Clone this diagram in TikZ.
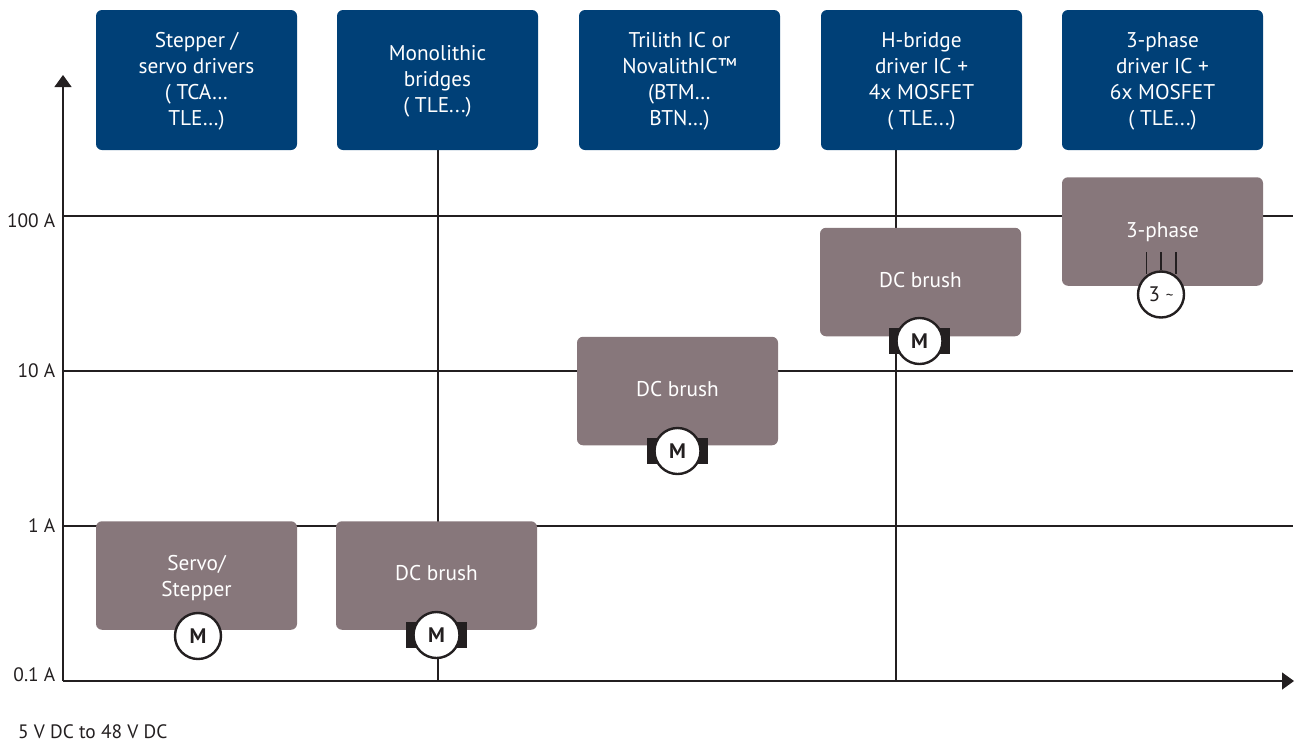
\documentclass[tikz,border=0pt]{standalone}
\usepackage{fontspec}
\setmainfont{PT Sans}
\usetikzlibrary{arrows.meta,calc,backgrounds}
\definecolor{ifblue}{HTML}{004077}
\definecolor{ifbrown}{HTML}{87777B}
\definecolor{ifline}{HTML}{231F20}
\newcommand{\dnstrut}{\rule{0pt}{17pt}}
\newcommand{\upstrut}{\rule[-5pt]{0pt}{0pt}}
\tikzset{
  x=1pt,y=-1pt,
  txt/.style={font=\fontsize{21.3}{26}\selectfont,align=center,text=white},
  headbox/.style={txt,fill=ifblue,rounded corners=6pt,minimum width=201pt,minimum height=140pt,inner sep=0pt},
  motorbox/.style={txt,fill=ifbrown,rounded corners=6pt,minimum width=201pt,minimum height=108.5pt,inner sep=0pt},
  motor/.style={circle,draw=ifline,line width=2.4pt,fill=white,minimum size=46pt,inner sep=0pt,text=ifline,font=\fontsize{21}{24}\selectfont},
  brushes/.style={fill=ifline,minimum width=61pt,minimum height=26pt,inner sep=0pt},
  grid/.style={draw=ifline,line width=1.4pt},
  phaseline/.style={draw=ifline,line width=1.3pt},
  axis/.style={draw=ifline,line width=1.4pt,-{Triangle[length=12pt,width=17pt]}},
  ticklabel/.style={anchor=east,inner sep=0pt,text=ifline,font=\fontsize{19.4}{22}\selectfont},
}
\begin{document}
\begin{tikzpicture}
\useasboundingbox (0,0) rectangle (1298,742);
% headers
\node[headbox] (h1) at (196.5,80) {\dnstrut Stepper /\\servo drivers\\( TCA…\\TLE…)};
\node[headbox] (h2) at (437.5,80) {\dnstrut Monolithic\\bridges\\( TLE...)};
\node[headbox] (h3) at (679.5,80) {\dnstrut Trilith IC or\\NovalithIC™\\(BTM…\\BTN…)};
\node[headbox] (h4) at (921.5,80) {\dnstrut H-bridge\\driver IC +\\4x MOSFET\\( TLE...)};
\node[headbox] (h5) at (1162.5,80) {\dnstrut 3-phase\\driver IC +\\6x MOSFET\\( TLE...)};
% motor boxes
\node[motorbox] (b1) at (196.5,575.5) {\rule{0pt}{20pt}Servo/\\Stepper};
\node[motorbox] (b2) at (436.5,575.5) {\upstrut DC brush};
\node[motorbox] (b3) at (677.5,391) {\upstrut DC brush};
\node[motorbox] (b4) at (920.5,282) {\upstrut DC brush};
\node[motorbox] (b5) at (1162.5,231.5) {\rule{0pt}{17pt}3-phase};
% brushes
\node[brushes] (r2) at (436.5,635) {};
\node[brushes] (r3) at (677.5,451) {};
\node[brushes] (r4) at (919.5,341) {};
% motors
\node[motor] (m1) at (198,636) {\bfseries M};
\node[motor] (m2) at (436.5,635) {\bfseries M};
\node[motor] (m3) at (677.5,451) {\bfseries M};
\node[motor] (m4) at (919.5,341) {\bfseries M};
\node[motor] (m5) at (1161,294.5) {3 \raisebox{1pt}{\fontsize{15}{15}\selectfont\textasciitilde}};
% axes anchors
\coordinate (origin) at (63,681);
\coordinate (ytop) at (63,75);
\coordinate (xend) at (1294,681);
\coordinate (g100l) at (63,216);
\coordinate (g100r) at (1293,216);
\coordinate (g10l) at (63,371);
\coordinate (g10r) at (1293,371);
\coordinate (g1l) at (63,526);
\coordinate (g1r) at (1293,526);
\coordinate (p1) at (1146.5,252);
\coordinate (p2) at (1161,252);
\coordinate (p3) at (1176,252);
\begin{scope}[on background layer]
  \draw[grid] ([xshift=0.5pt]h2.south) -- ([xshift=0.5pt]h2.south |- origin);
  \draw[grid] ([xshift=-25.5pt]h4.south) -- ([xshift=-25.5pt]h4.south |- origin);
  \draw[grid] (g100l) -- (g100r);
  \draw[grid] (g10l) -- (g10r);
  \draw[grid] (g1l) -- (g1r);
  \draw[axis] (origin) -- (ytop);
  \draw[axis] (origin) -- (xend);
\end{scope}
\draw[phaseline] (p1) -- ($(p1 |- m5.north)+(0,4)$);
\draw[phaseline] (p2) -- (m5.north);
\draw[phaseline] (p3) -- ($(p3 |- m5.north)+(0,4)$);
% labels
\node[ticklabel] (l100) at (55.5,221) {100 A};
\node[ticklabel] (l10) at (55.5,371) {10 A};
\node[ticklabel] (l1) at (55.5,526) {1 A};
\node[ticklabel] (l01) at (55.5,675) {0.1 A};
\node[ticklabel,anchor=west] (xl) at (18,732) {5 V DC to 48 V DC};
\end{tikzpicture}
\end{document}
